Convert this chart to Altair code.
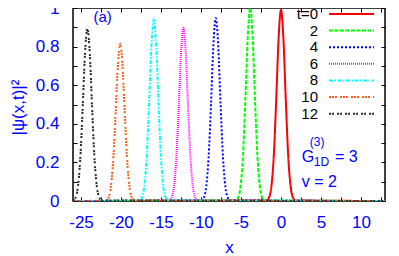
import altair as alt
import pandas as pd

FONT = "Liberation Sans"
BLUE = "#0000ff"

# series labels, colours and dash patterns
labels = ["t=0", "2", "4", "6", "8", "10", "12"]
colors = ["#ff0000", "#00ff00", "#0000ff", "#ff00ff", "#00ffff", "#ff6020", "#2b2b2b"]
dashes = [[1, 0], [4, 1.5], [2, 2], [1, 1], [4, 1.5, 1.5, 1.5], [2, 1, 2, 1, 2, 3], [2, 1, 2, 3]]

# curve values
x_t0 = [-26, -1.8, -1.5, -1.2, -0.9, -0.6, -0.3, 0.0, 0.3, 0.6, 0.9, 1.2, 1.5, 1.8, 13]
y_t0 = [0, 0.003, 0.018, 0.076, 0.235, 0.522, 0.843, 0.99, 0.843, 0.522, 0.235, 0.076, 0.018, 0.003, 0]

x_t2 = [-26, -5.65, -5.35, -5.05, -4.75, -4.45, -4.15, -3.85, -3.55, -3.25, -2.95, -2.65, -2.35, -2.05, 13]
y_t2 = [0, 0.003, 0.018, 0.077, 0.237, 0.527, 0.852, 1.0, 0.852, 0.527, 0.237, 0.077, 0.018, 0.003, 0]

x_t4 = [-26, -9.95, -9.65, -9.35, -9.05, -8.75, -8.45, -8.15, -7.85, -7.55, -7.25, -6.95, -6.65, -6.35, 13]
y_t4 = [0, 0.003, 0.017, 0.073, 0.225, 0.5, 0.808, 0.948, 0.808, 0.5, 0.225, 0.073, 0.017, 0.003, 0]

x_t6 = [-26, -14.0, -13.7, -13.4, -13.1, -12.8, -12.5, -12.2, -11.9, -11.6, -11.3, -11.0, -10.7, -10.4, 13]
y_t6 = [0, 0.003, 0.016, 0.069, 0.213, 0.473, 0.764, 0.897, 0.764, 0.473, 0.213, 0.069, 0.016, 0.003, 0]

x_t8 = [-26, -17.7, -17.4, -17.1, -16.8, -16.5, -16.2, -15.9, -15.6, -15.3, -15.0, -14.7, -14.4, -14.1, 13]
y_t8 = [0, 0.003, 0.017, 0.072, 0.223, 0.495, 0.801, 0.94, 0.801, 0.495, 0.223, 0.072, 0.017, 0.003, 0]

x_t10 = [-26, -21.9, -21.6, -21.3, -21.0, -20.7, -20.4, -20.1, -19.8, -19.5, -19.2, -18.9, -18.6, -18.3, 13]
y_t10 = [0, 0.002, 0.015, 0.063, 0.193, 0.43, 0.694, 0.815, 0.694, 0.43, 0.193, 0.063, 0.015, 0.002, 0]

x_t12 = [-26.0, -25.7, -25.4, -25.1, -24.8, -24.5, -24.2, -23.9, -23.6, -23.3, -23.0, -22.7, -22.4, 13]
y_t12 = [0.003, 0.016, 0.069, 0.212, 0.472, 0.763, 0.895, 0.763, 0.472, 0.212, 0.069, 0.016, 0.003, 0]

# axis ticks and labels
x_label_vals = [-25, -20, -15, -10, -5, 0, 5, 10]
x_tick_vals = [-25, -22.5, -20, -17.5, -15, -12.5, -10, -7.5, -5, -2.5, 0, 2.5, 5, 7.5, 10, 12.5]
y_label_vals = [0, 0.2, 0.4, 0.6, 0.8, 1]
y_tick_vals = [0, 0.1, 0.2, 0.3, 0.4, 0.5, 0.6, 0.7, 0.8, 0.9, 1]

# annotations
big_text = ["G", "= 3", "v = 2"]
big_x = [2.6, 6.75, 2.6]
big_y = [0.202, 0.202, 0.073]
small_text = ["(3)", "1D"]
small_x = [3.6, 4.1]
small_y = [0.285, 0.181]
panel_text = ["(a)"]
panel_x = [-22.3]
panel_y = [0.955]

W, H = 312, 193

series = [(x_t0, y_t0), (x_t2, y_t2), (x_t4, y_t4), (x_t6, y_t6),
          (x_t8, y_t8), (x_t10, y_t10), (x_t12, y_t12)]
rows = []
for k, (xs, ys) in enumerate(series):
    for xv, yv in zip(xs, ys):
        rows.append({"x": xv, "y": yv, "t": labels[k], "k": k})
df = pd.DataFrame(rows)

xscale = alt.Scale(domain=[-26, 13], nice=False, zero=False)
yscale = alt.Scale(domain=[0, 1], nice=False, zero=False)
cscale = alt.Scale(domain=labels, range=colors)
dscale = alt.Scale(domain=labels, range=dashes)

lbl = dict(labelFont=FONT, labelFontSize=17, labelColor=BLUE, grid=False, domain=False)
tick_common = dict(labels=False, domain=False, grid=False, tickSize=4, tickColor="black",
                   tickWidth=1, title=None)

lines = alt.Chart(df).mark_line(strokeWidth=2, interpolate="monotone", clip=True).encode(
    x=alt.X("x:Q", scale=xscale, axis=alt.Axis(
        orient="bottom", values=x_label_vals, labelExpr="'' + datum.value", ticks=False,
        labelPadding=13, title="x", titleFont=FONT, titleFontSize=17, titleFontWeight="normal",
        titleColor=BLUE, titleY=46, titleBaseline="middle", **lbl)),
    y=alt.Y("y:Q", scale=yscale, axis=alt.Axis(
        orient="left", values=y_label_vals, labelExpr="'' + datum.value", ticks=False,
        labelPadding=14, title="|ψ(x,t)|²", titleFont=FONT, titleFontSize=17,
        titleFontWeight="normal", titleColor=BLUE, titleX=-55, titleY=99,
        titleBaseline="middle", titleAngle=-90, **lbl)),
    color=alt.Color("t:N", scale=cscale, legend=None),
    strokeDash=alt.StrokeDash("t:N", scale=dscale, legend=None),
    detail="t:N",
    order=alt.Order("x:Q"),
)

ticks_a = alt.Chart(df).mark_line(opacity=0).encode(
    x=alt.X("x:Q", scale=xscale, axis=alt.Axis(orient="top", offset=-H, values=x_tick_vals, **tick_common)),
    y=alt.Y("y:Q", scale=yscale, axis=alt.Axis(orient="right", offset=-W, values=y_tick_vals, **tick_common)),
    detail="t:N",
)
ticks_b = alt.Chart(df).mark_line(opacity=0).encode(
    x=alt.X("x:Q", scale=xscale, axis=alt.Axis(orient="bottom", offset=-H, values=x_tick_vals, **tick_common)),
    y=alt.Y("y:Q", scale=yscale, axis=alt.Axis(orient="left", offset=-W, values=y_tick_vals, **tick_common)),
    detail="t:N",
)

big_df = pd.DataFrame({"x": big_x, "y": big_y, "text": big_text})
small_df = pd.DataFrame({"x": small_x, "y": small_y, "text": small_text})
panel_df = pd.DataFrame({"x": panel_x, "y": panel_y, "text": panel_text})

ann_big = alt.Chart(big_df).mark_text(align="left", baseline="alphabetic", font=FONT,
                                      fontSize=16, color=BLUE).encode(
    x=alt.X("x:Q", scale=xscale, axis=None), y=alt.Y("y:Q", scale=yscale, axis=None), text="text:N")
ann_small = alt.Chart(small_df).mark_text(align="left", baseline="alphabetic", font=FONT,
                                          fontSize=12, color=BLUE).encode(
    x=alt.X("x:Q", scale=xscale, axis=None), y=alt.Y("y:Q", scale=yscale, axis=None), text="text:N")
ann_panel = alt.Chart(panel_df).mark_text(align="center", baseline="middle", font=FONT,
                                          fontSize=15, color=BLUE).encode(
    x=alt.X("x:Q", scale=xscale, axis=None), y=alt.Y("y:Q", scale=yscale, axis=None), text="text:N")

leg_df = pd.DataFrame({"t": labels})
lyscale = alt.Scale(type="point", domain=labels, range=[6, 105.7], padding=0)
legend_rule = alt.Chart(leg_df).mark_rule(strokeWidth=2).encode(
    x=alt.value(256), x2=alt.value(301),
    y=alt.Y("t:N", scale=lyscale, axis=None),
    color=alt.Color("t:N", scale=cscale, legend=None),
    strokeDash=alt.StrokeDash("t:N", scale=dscale, legend=None),
)
legend_text = alt.Chart(leg_df).mark_text(align="right", baseline="middle", font=FONT,
                                          fontSize=15, color="black").encode(
    x=alt.value(245),
    y=alt.Y("t:N", scale=lyscale, axis=None),
    text="t:N",
)

chart = alt.layer(
    lines, ticks_a, ticks_b, ann_big, ann_small, ann_panel, legend_rule, legend_text
).resolve_scale(x="independent", y="independent").resolve_axis(
    x="independent", y="independent"
).properties(
    width=W, height=H,
    padding={"left": 65, "top": 0, "right": 6, "bottom": 54},
    autosize=alt.AutoSizeParams(type="none"),
).configure_view(stroke="black", strokeWidth=1.5)

chart.save("out.html", embed_options={"renderer": "svg", "actions": False})
